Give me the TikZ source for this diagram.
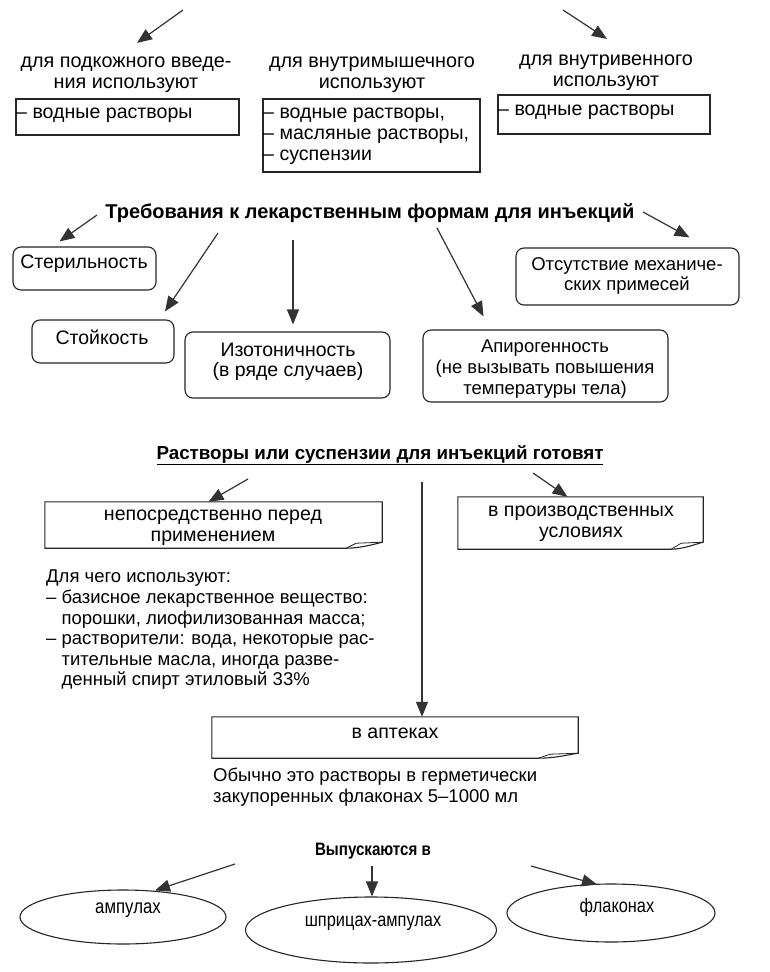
\documentclass[tikz,border=0pt]{standalone}
\usepackage{fontspec}
\setmainfont{Liberation Sans}
\newfontfamily\narrowfont{Liberation Sans}[FakeStretch=0.84]
\usetikzlibrary{arrows.meta,shapes.geometric,calc}
\newcommand\fs{\fontsize{18.5}{20.6}\selectfont}
\newcommand\fsl{\fontsize{19.8}{21}\selectfont}
\newcommand\fsb{\fontsize{19.6}{21}\selectfont}
\newcommand\fsr{\fontsize{19.5}{20}\selectfont}
\newcommand\fst{\fontsize{20}{20}\selectfont\bfseries}
\newcommand\fstt{\fontsize{18.8}{20}\selectfont\bfseries}
\tikzset{
  arr/.style={draw=black!80, line width=1.2pt, -{Triangle[length=15pt,width=12pt]}},
  boxline/.style={draw=black!85, line width=1.1pt},
  sqbox/.style={boxline, inner sep=0pt},
  rbox/.style={boxline, inner sep=0pt, rounded corners=8pt},
  txt/.style={inner sep=0pt, align=center, font=\fs},
  ltxt/.style={inner sep=0pt, align=left, font=\fs, anchor=west},
  ell/.style={boxline, ellipse, inner sep=0pt},
}
\begin{document}
\begin{tikzpicture}[x=1pt,y=-1pt]
\useasboundingbox[fill=white] (0,0) rectangle (769,972);

% ---- top section
\coordinate (t1) at (183,10);
\coordinate (t2) at (563,10);
\node[txt, font=\fsl] (sub) at (126,75) {для подкожного введе-\\ния используют};
\node[txt, font=\fsl] (mus) at (372,75) {для внутримышечного\\используют};
\node[txt, font=\fsl] (ven) at (606,73) {для внутривенного\\используют};
\draw[arr] (t1) -- ([xshift=11pt,yshift=14pt]sub.north);
\draw[arr] (t2) -- ([xshift=1pt,yshift=16pt]ven.north);

\node[sqbox, minimum width=223pt, minimum height=36pt] (b1) at (127.5,117) {};
\node[ltxt, font=\fsb] (b1t) at (16,115) {– водные растворы};
\node[sqbox, minimum width=217pt, minimum height=73pt] (b2) at (371.5,135.5) {};
\node[ltxt, font=\fsb] (b2t) at (263,136) {– водные растворы,\\– масляные растворы,\\– суспензии};
\node[sqbox, minimum width=212pt, minimum height=39pt] (b3) at (604,114.5) {};
\node[ltxt, font=\fsb] (b3t) at (498,112) {– водные растворы};

% ---- requirements
\node[txt, font=\fst] (req) at (370,213) {Требования к лекарственным формам для инъекций};
\coordinate (r1) at (97,215);
\coordinate (r2) at (218,233);
\coordinate (r3) at (293,240);
\coordinate (r4) at (437,228);
\coordinate (r5) at (643,212);

\node[rbox, minimum width=143pt, minimum height=43pt] (ster) at (84.5,268.5) {};
\node[txt, font=\fsr] at (84,264) {Стерильность};
\node[rbox, minimum width=142pt, minimum height=43pt] (stoi) at (103,341.5) {};
\node[txt, font=\fsr] at (102,337) {Стойкость};
\node[rbox, minimum width=205pt, minimum height=66pt] (izo) at (287.5,365) {};
\node[txt, font=\fsr] at (288,362) {Изотоничность\\(в ряде случаев)};
\node[rbox, minimum width=245pt, minimum height=72pt] (apir) at (545.5,366) {};
\node[txt] at (545,369) {Апирогенность\\(не вызывать повышения\\температуры тела)};
\node[rbox, minimum width=223pt, minimum height=57pt] (ots) at (627.5,276.5) {};
\node[txt] at (627,276) {Отсутствие механиче-\\ских примесей};

\draw[arr] (r1) -- ([xshift=-25pt,yshift=5pt]ster.north);
\draw[arr] (r2) -- ([xshift=62pt,yshift=8pt]stoi.north);
\draw[arr] (r3) -- ([xshift=5.5pt,yshift=7pt]izo.north);
\draw[arr] (r4) -- ([xshift=-62pt,yshift=13pt]apir.north);
\draw[arr] (r5) -- ([xshift=62pt,yshift=10pt]ots.north);

% ---- preparation
\node[txt, font=\fstt] (prep) at (380,455) {\underline{Растворы или суспензии для инъекций готовят}};
\coordinate (p1) at (248,479);
\coordinate (p2) at (533,473);
\coordinate (p3) at (422,482);

\node[inner sep=0pt, minimum width=337pt, minimum height=46pt] (nep) at (213.5,525) {};
\draw[boxline] (nep.north west) -- (nep.north east) -- ([yshift=6pt]nep.south east)
  .. controls ([xshift=-8pt,yshift=4pt]nep.south east) and ([xshift=-22pt,yshift=0pt]nep.south east) .. ([xshift=-36pt]nep.south east)
  -- (nep.south west) -- cycle;
\draw[boxline, line width=0.8pt] ([xshift=-36pt]nep.south east) -- ([xshift=-26pt,yshift=5pt]nep.south east) -- ([yshift=6pt]nep.south east);
\node[txt, font=\fsb] at (213,528) {непосредственно перед\\применением};

\node[inner sep=0pt, minimum width=245pt, minimum height=52pt] (pro) at (580.5,523) {};
\draw[boxline] (pro.north west) -- (pro.north east) -- ([yshift=7pt]pro.south east)
  .. controls ([xshift=-8pt,yshift=5pt]pro.south east) and ([xshift=-20pt,yshift=0pt]pro.south east) .. ([xshift=-32pt]pro.south east)
  -- (pro.south west) -- cycle;
\draw[boxline, line width=0.8pt] ([xshift=-32pt]pro.south east) -- ([xshift=-22pt,yshift=6pt]pro.south east) -- ([yshift=7pt]pro.south east);
\node[txt, font=\fsb] at (581,524) {в производственных\\условиях};

\draw[arr] (p1) -- ([xshift=-5pt]nep.north);
\draw[arr] (p2) -- ([xshift=-13pt]pro.north);

\node[inner sep=0pt, align=left, font=\fs, anchor=north west] (use) at (46,570)
  {Для чего используют:\\
   – базисное лекарственное вещество:\\
   \phantom{– }порошки, лиофилизованная масса;\\
   – растворители: вода, некоторые рас-\\
   \phantom{– }тительные масла, иногда разве-\\
   \phantom{– }денный спирт этиловый 33\%};

\node[inner sep=0pt, minimum width=366pt, minimum height=41pt] (apt) at (395,737.5) {};
\draw[boxline] (apt.north west) -- (apt.north east) -- ([yshift=5pt]apt.south east)
  .. controls ([xshift=-8pt,yshift=4pt]apt.south east) and ([xshift=-22pt,yshift=0pt]apt.south east) .. ([xshift=-40pt]apt.south east)
  -- (apt.south west) -- cycle;
\draw[boxline, line width=0.8pt] ([xshift=-40pt]apt.south east) -- ([xshift=-28pt,yshift=4pt]apt.south east) -- ([yshift=5pt]apt.south east);
\node[txt, font=\fsb] at (395,733) {в аптеках};
\draw[arr] (p3) -- (p3 |- apt.north);

\node[ltxt] (obs) at (213,787) {Обычно это растворы в герметически\\закупоренных флаконах 5–1000 мл};

% ---- release
\node[txt, font=\narrowfont\fontsize{18}{20}\selectfont\bfseries] (rel) at (373,851) {Выпускаются в};
\coordinate (q1) at (235,864);
\coordinate (q2) at (372,866);
\coordinate (q3) at (531,866);
\node[ell, minimum width=206pt, minimum height=54pt] (amp) at (123,917) {};
\node[txt, font=\narrowfont\fontsize{20}{20}\selectfont] at (128,910) {ампулах};
\node[ell, minimum width=251pt, minimum height=66pt] (shp) at (371,930) {};
\node[txt, font=\narrowfont\fontsize{19.5}{20}\selectfont] at (373,923) {шприцах-ампулах};
\node[ell, minimum width=208pt, minimum height=58pt] (fla) at (611,913) {};
\node[txt, font=\narrowfont\fontsize{19.5}{20}\selectfont] at (617,907) {флаконах};
\draw[arr] (q1) -- ([xshift=32pt,yshift=-1pt]amp.north);
\draw[arr] (q2) -- (q2 |- shp.north);
\draw[arr] (q3) -- ([xshift=-14pt,yshift=-1pt]fla.north);
\end{tikzpicture}
\end{document}
